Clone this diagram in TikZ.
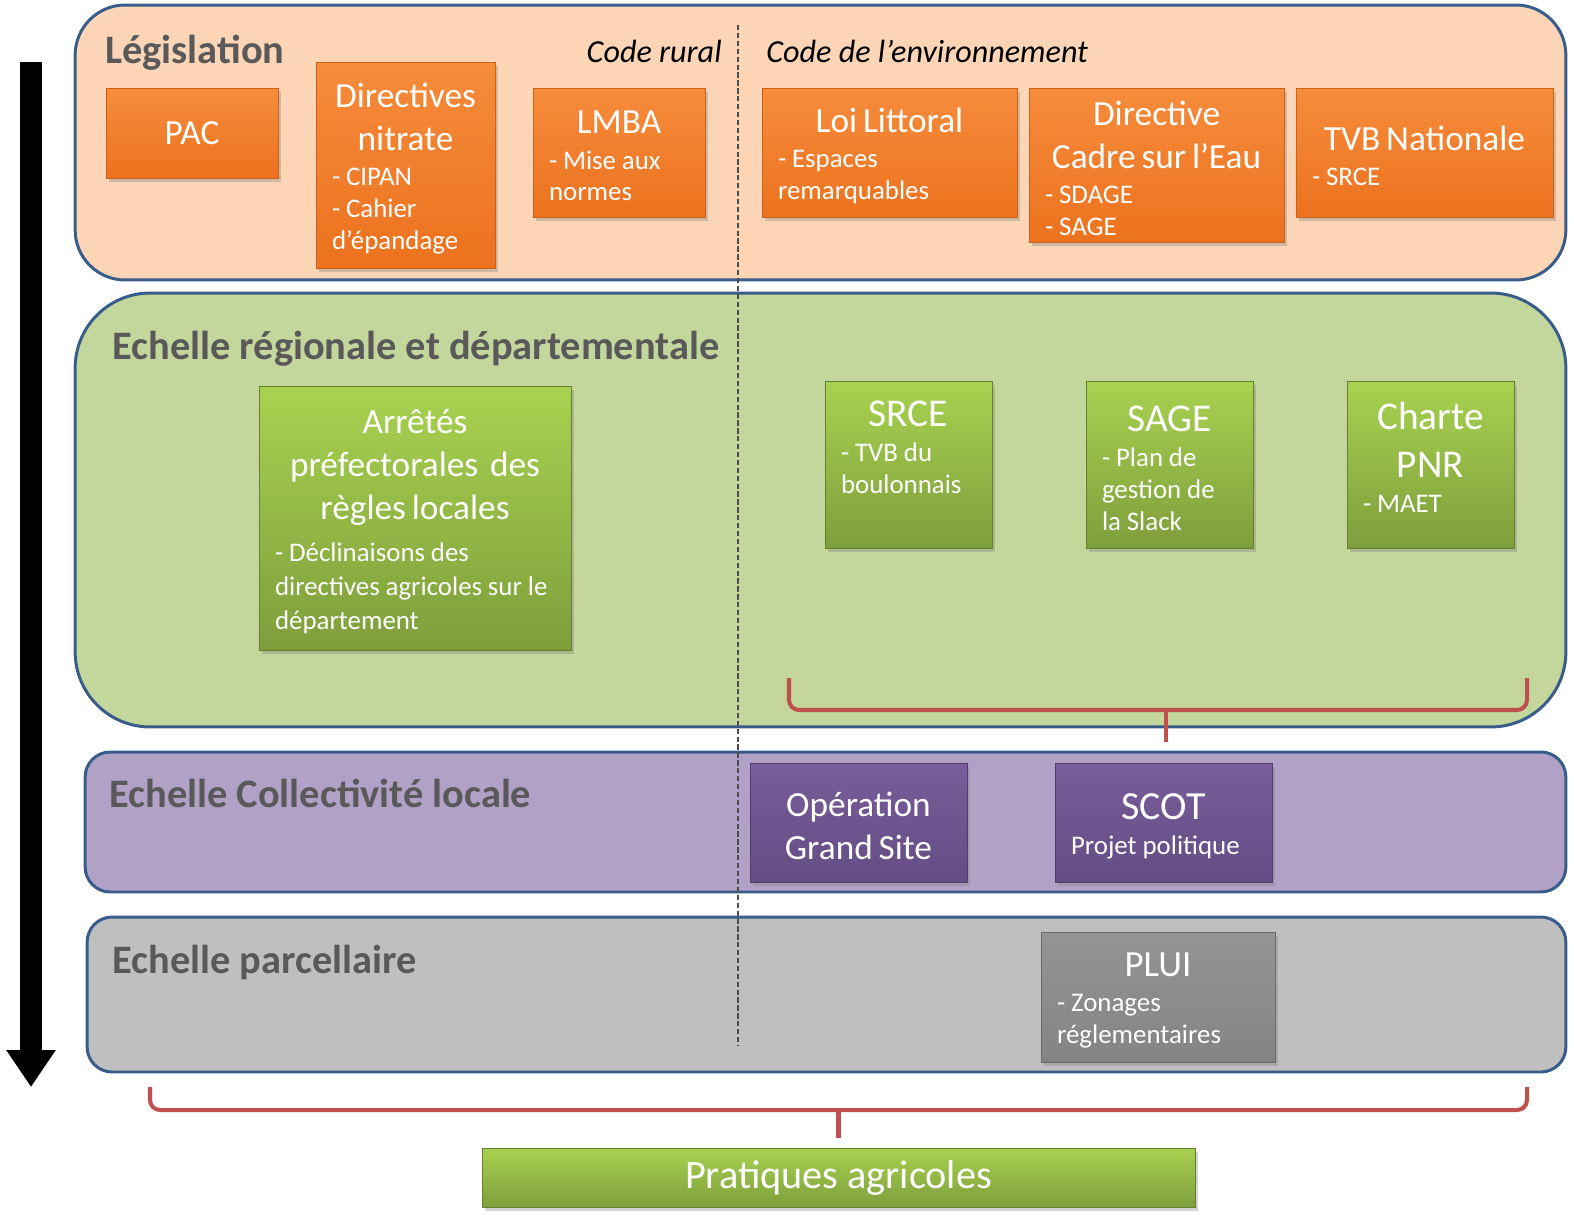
\documentclass[tikz,border=0pt]{standalone}
\usepackage{fontspec}
\setmainfont{Carlito}
\usetikzlibrary{arrows.meta,shadows}
\definecolor{panelblue}{RGB}{56,93,138}
\definecolor{softpeach}{RGB}{251,213,181}
\definecolor{softolive}{RGB}{195,214,155}
\definecolor{softlilac}{RGB}{178,161,199}
\definecolor{softgrey}{RGB}{191,191,191}
\definecolor{titlegrey}{RGB}{89,89,89}
\definecolor{ortop}{RGB}{246,140,60}
\definecolor{orbot}{RGB}{236,114,30}
\definecolor{grtop}{RGB}{168,210,80}
\definecolor{grbot}{RGB}{126,158,60}
\definecolor{putop}{RGB}{120,94,154}
\definecolor{pubot}{RGB}{100,76,132}
\definecolor{gytop}{RGB}{148,148,148}
\definecolor{gybot}{RGB}{132,132,132}
\definecolor{bracered}{RGB}{192,80,77}
\newcommand{\mainsz}{\fontsize{20.1}{24.4}\selectfont}
\newcommand{\largesz}{\fontsize{22.4}{27.2}\selectfont}
\newcommand{\subsz}{\fontsize{15.3}{18.1}\selectfont}
% centred head, then left-aligned lines
\newcommand{\headtxt}[1]{{\centering #1\par}}
\newcommand{\subtxt}[2][2pt]{{\vspace{#1}\raggedright\subsz #2\par}\vspace{-4pt}}
\tikzset{
  panel/.style={draw=panelblue,line width=1.7pt,inner sep=0pt},
  ibox/.style={rectangle,inner sep=0pt,text=white,line width=.5pt,
    drop shadow={opacity=.35,shadow xshift=.6mm,shadow yshift=-.8mm}},
  obox/.style={ibox,top color=ortop,bottom color=orbot,draw=orbot!85!black},
  gbox/.style={ibox,top color=grtop,bottom color=grbot,draw=grbot!80!black},
  pbox/.style={ibox,top color=putop,bottom color=pubot,draw=pubot!80!black},
  ybox/.style={ibox,top color=gytop,bottom color=gybot,draw=gybot!80!black},
  ttl/.style={anchor=base west,text=titlegrey,inner sep=0pt,font=\fontsize{23}{27}\selectfont\bfseries},
  codelab/.style={inner sep=0pt,font=\fontsize{18.3}{21}\selectfont\itshape},
  bracepath/.style={draw=bracered,line width=2.3pt,rounded corners=0.2cm},
  sepline/.style={draw=black!70,line width=.6pt,dash pattern=on 3pt off 1.5pt}
}

\begin{document}
\begin{tikzpicture}[x=0.02cm,y=-0.02cm]
  \useasboundingbox (0,0) rectangle (1574,1214);
  % scale arrow
  \coordinate (arrtop) at (31,62);
  \coordinate (arrbot) at (31,1087);
  \draw[line width=0.46cm,-{Triangle[width=0.94cm,length=0.74cm]}] (arrtop) -- (arrbot);
  % panels
  \node[panel,fill=softpeach,rounded corners=1cm,minimum width=29.82cm,minimum height=5.5cm] (leg) at (820.5,142.5) {};
  \node[panel,fill=softolive,rounded corners=1.5cm,minimum width=29.82cm,minimum height=8.68cm] (reg) at (820.5,510) {};
  \node[panel,fill=softlilac,rounded corners=0.5cm,minimum width=29.62cm,minimum height=2.8cm] (col) at (825.5,822) {};
  \node[panel,fill=softgrey,rounded corners=0.5cm,minimum width=29.58cm,minimum height=3.1cm] (par) at (826.5,994.5) {};
  \coordinate (septop) at (738,25);
  \coordinate (sepbot) at (738,1045);
  \draw[sepline] (septop) -- (sepbot);
  % titles
  \node[ttl] (legtitle) at (105,63) {Législation};
  \node[ttl] (regtitle) at (112,359) {Echelle régionale et départementale};
  \node[ttl] (coltitle) at (109,807) {Echelle Collectivité locale};
  \node[ttl] (partitle) at (112,973) {Echelle parcellaire};
  \node[codelab,anchor=base east] (rural) at (722,62) {Code rural};
  \node[codelab,anchor=base west] (envir) at (766,62) {Code de l'environnement};
  % legislation
  \node[obox,minimum width=3.44cm,minimum height=1.8cm,text width=2.8cm] (pac) at (192,133)
    {\headtxt{\mainsz PAC}};
  \node[obox,minimum width=3.58cm,minimum height=4.12cm,text width=2.94cm] (nitrate) at (405.5,165)
    {\headtxt{\mainsz Directives\\nitrate}\subtxt{- CIPAN\\- Cahier\\d'épandage}};
  \node[obox,minimum width=3.44cm,minimum height=2.58cm,text width=2.8cm] (lmba) at (619,152.5)
    {\headtxt{\mainsz LMBA}\subtxt{- Mise aux\\normes}};
  \node[obox,minimum width=5.1cm,minimum height=2.58cm,text width=4.46cm] (littoral) at (889.5,152.5)
    {\headtxt{\mainsz Loi Littoral}\subtxt{- Espaces\\remarquables}};
  \node[obox,minimum width=5.1cm,minimum height=3.08cm,text width=4.46cm] (dce) at (1156.5,165)
    {\headtxt{\mainsz Directive\\Cadre sur l'Eau}\subtxt{- SDAGE\\- SAGE}};
  \node[obox,minimum width=5.14cm,minimum height=2.58cm,text width=4.5cm] (tvb) at (1424.5,152.5)
    {\headtxt{\mainsz TVB Nationale}\subtxt{- SRCE}};
  % regional
  \node[gbox,minimum width=6.24cm,minimum height=5.28cm,text width=5.6cm] (arretes) at (415,518)
    {\headtxt{\mainsz Arrêtés\\préfectorales\, des\\règles locales}\subtxt[5pt]{\baselineskip=19.3pt - Déclinaisons des\\directives agricoles sur le\\département}};
  \node[gbox,minimum width=3.34cm,minimum height=3.34cm,text width=2.7cm] (srce) at (908.5,464.5)
    {\headtxt{\largesz SRCE}\subtxt{- TVB du\\boulonnais\\\strut}};
  \node[gbox,minimum width=3.34cm,minimum height=3.34cm,text width=2.7cm] (sage) at (1169.5,464.5)
    {\headtxt{\largesz SAGE}\subtxt{- Plan de\\gestion de\\la Slack}};
  \node[gbox,minimum width=3.34cm,minimum height=3.34cm,text width=2.7cm] (pnr) at (1430.5,464.5)
    {\headtxt{\largesz Charte\\PNR}\subtxt{- MAET}\vspace{12pt}};
  % collectivite
  \node[pbox,minimum width=4.34cm,minimum height=2.38cm,text width=3.7cm] (ogs) at (858.5,822.5)
    {\headtxt{\mainsz Opération\\Grand Site}\vspace{-4pt}};
  \node[pbox,minimum width=4.34cm,minimum height=2.38cm,text width=3.7cm] (scot) at (1163.5,822.5)
    {\headtxt{\fontsize{22.7}{27}\selectfont SCOT}\subtxt{Projet politique}};
  % parcellaire
  \node[ybox,minimum width=4.68cm,minimum height=2.6cm,text width=4.04cm] (plui) at (1158,997)
    {\headtxt{\fontsize{21}{26}\selectfont PLUI}\subtxt{- Zonages\\réglementaires}};
  \node[gbox,minimum width=14.26cm,minimum height=1.18cm] (pratiques) at (838.5,1177.5)
    {\fontsize{22.9}{27}\selectfont Pratiques agricoles};
  % braces
  \coordinate (b1l) at (789,678); \coordinate (b1r) at (1527,678);
  \coordinate (b1m) at (1166,710); \coordinate (b1t) at (1166,742);
  \draw[bracepath] (b1l) |- (b1m) -| (b1r);
  \draw[bracepath] (b1m) -- (b1t);
  \coordinate (b2l) at (150,1087); \coordinate (b2r) at (1527,1087);
  \coordinate (b2m) at (838.5,1110); \coordinate (b2t) at (838.5,1138);
  \draw[bracepath] (b2l) |- (b2m) -| (b2r);
  \draw[bracepath] (b2m) -- (b2t);
\end{tikzpicture}
\end{document}
